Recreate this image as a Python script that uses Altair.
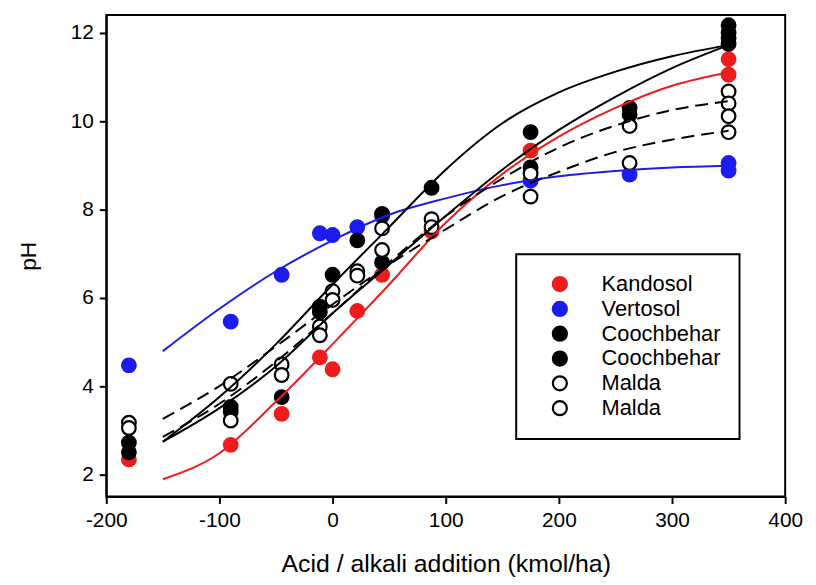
import altair as alt
import pandas as pd

# ---------------- data ----------------
SERIES = ["Kandosol", "Vertosol", "Coochbehar 1", "Coochbehar 2", "Malda 1", "Malda 2"]

KANDOSOL_X = [-180, -90, -45, -11.25, 0, 21.875, 43.75, 87.5, 175, 350, 350]
KANDOSOL_Y = [2.34, 2.67, 3.37, 4.65, 4.38, 5.70, 6.52, 7.50, 9.33, 11.40, 11.05]

VERTOSOL_X = [-180, -90, -45, -11.25, 0, 21.875, 43.75, 175, 262.5, 350, 350]
VERTOSOL_Y = [4.47, 5.46, 6.52, 7.46, 7.42, 7.60, 7.85, 8.65, 8.79, 9.05, 8.88]

COOCH1_X = [-180, -90, -45, -11.25, 0, 21.875, 43.75, 87.5, 175, 262.5, 350, 350]
COOCH1_Y = [2.72, 3.53, 3.75, 5.80, 6.52, 7.30, 7.90, 8.49, 9.75, 10.30, 12.17, 12.00]

COOCH2_X = [-180, -90, -11.25, 43.75, 175, 262.5, 350, 350]
COOCH2_Y = [2.50, 3.42, 5.68, 6.80, 8.95, 10.15, 11.88, 11.75]

MALDA1_X = [-180, -90, -45, -11.25, 0, 21.875, 43.75, 87.5, 175, 262.5, 350, 350]
MALDA1_Y = [3.17, 4.05, 4.49, 5.35, 6.15, 6.60, 7.57, 7.78, 8.81, 9.89, 10.67, 10.40]

MALDA2_X = [-180, -90, -45, -11.25, 0, 21.875, 43.75, 87.5, 175, 262.5, 350, 350]
MALDA2_Y = [3.05, 3.22, 4.25, 5.15, 5.95, 6.50, 7.08, 7.60, 8.29, 9.05, 10.11, 9.75]

# fitted curves, read at these x positions
CURVE_X = [-150, -100, -50, 0, 50, 100, 150, 200, 250, 300, 350]
FIT_KANDOSOL = [1.89, 2.48, 3.65, 4.95, 6.30, 7.70, 8.80, 9.65, 10.30, 10.80, 11.10]
FIT_VERTOSOL = [4.79, 5.75, 6.60, 7.30, 7.88, 8.25, 8.55, 8.75, 8.87, 8.95, 8.99]
FIT_COOCH1 = [2.74, 3.75, 4.95, 6.30, 7.60, 8.90, 9.95, 10.65, 11.12, 11.47, 11.72]
FIT_COOCH2 = [2.74, 3.50, 4.45, 5.65, 6.75, 7.85, 8.90, 9.80, 10.55, 11.20, 11.72]
FIT_MALDA1 = [3.26, 4.00, 4.90, 5.85, 6.75, 7.55, 8.30, 8.85, 9.30, 9.58, 9.78]
FIT_MALDA2 = [2.85, 3.60, 4.55, 5.65, 6.80, 7.85, 8.70, 9.40, 9.90, 10.25, 10.45]

X_TICKS = [-200, -100, 0, 100, 200, 300, 400]
Y_TICKS = [2, 4, 6, 8, 10, 12]

RED = "#ee1c1c"
BLUE = "#1c1cee"

FILL_RANGE = [RED, BLUE, "black", "black", "white", "white"]
STROKE_RANGE = [RED, BLUE, "black", "black", "black", "black"]

# ---------------- tables ----------------
pts = []
for name, xs, ys in [
    ("Kandosol", KANDOSOL_X, KANDOSOL_Y),
    ("Vertosol", VERTOSOL_X, VERTOSOL_Y),
    ("Coochbehar 1", COOCH1_X, COOCH1_Y),
    ("Coochbehar 2", COOCH2_X, COOCH2_Y),
    ("Malda 1", MALDA1_X, MALDA1_Y),
    ("Malda 2", MALDA2_X, MALDA2_Y),
]:
    for xv, yv in zip(xs, ys):
        pts.append({"x": xv, "pH": yv, "series": name})
df_pts = pd.DataFrame(pts)

curves = [
    ("Kandosol", FIT_KANDOSOL, RED, None),
    ("Vertosol", FIT_VERTOSOL, BLUE, None),
    ("Coochbehar 1", FIT_COOCH1, "black", None),
    ("Coochbehar 2", FIT_COOCH2, "black", None),
    ("Malda 1", FIT_MALDA1, "black", [13, 7]),
    ("Malda 2", FIT_MALDA2, "black", [13, 7]),
]
lrows = []
for name, ys, _, _ in curves:
    for xv, yv in zip(CURVE_X, ys):
        lrows.append({"x": xv, "pH": yv, "curve": name})
df_lines = pd.DataFrame(lrows)

# ---------------- encodings ----------------
x_enc = alt.X(
    "x:Q",
    scale=alt.Scale(domain=[-200, 400], nice=False, zero=False),
    axis=alt.Axis(values=X_TICKS, title="Acid / alkali addition (kmol/ha)",
                  labelExpr="'' + datum.value", labelFlush=False,
                  titlePadding=22, labelPadding=6, titleFontSize=25),
)
y_enc = alt.Y(
    "pH:Q",
    scale=alt.Scale(domain=[1.5, 12.4], nice=False, zero=False),
    axis=alt.Axis(values=Y_TICKS, title="pH", labelFlush=False,
                  titlePadding=30, labelPadding=6),
)

legend = alt.Legend(
    title=None, orient="none", legendX=413, legendY=241,
    labelExpr="split(datum.label, ' ')[0]",
    labelFontSize=22, labelFont="Arial", labelColor="black",
    symbolSize=200, symbolStrokeWidth=2.2, symbolType="circle",
    strokeColor="black", fillColor="white", padding=19, rowPadding=1,
    symbolOffset=14, labelOffset=31,
)

points = alt.Chart(df_pts).mark_point(
    filled=True, size=190, strokeWidth=2.2, opacity=1, fillOpacity=1, strokeOpacity=1
).encode(
    x=x_enc,
    y=y_enc,
    fill=alt.Fill("series:N", scale=alt.Scale(domain=SERIES, range=FILL_RANGE), legend=legend),
    stroke=alt.Stroke("series:N", scale=alt.Scale(domain=SERIES, range=STROKE_RANGE), legend=legend),
)

line_layers = []
for name, _, color, dash in curves:
    kw = dict(color=color, strokeWidth=2, interpolate="monotone")
    if dash:
        kw["strokeDash"] = dash
    line_layers.append(
        alt.Chart(df_lines).transform_filter(alt.datum.curve == name)
        .mark_line(**kw).encode(x=x_enc, y=y_enc)
    )

chart = alt.layer(points, *line_layers).properties(
    width=684, height=485,
    padding={"left": 9, "top": 3, "right": 5, "bottom": 2},
).configure_view(
    stroke="black", strokeWidth=2
).configure_axis(
    domainColor="black", domainWidth=2, tickColor="black", tickWidth=2, tickSize=7,
    labelFont="Arial", labelFontSize=21, labelColor="black",
    titleFont="Arial", titleFontSize=23, titleFontWeight="normal", titleColor="black",
    grid=False,
).configure_legend(
    strokeWidth=2
)

chart.save("out.html", embed_options={"renderer": "svg", "actions": False})
